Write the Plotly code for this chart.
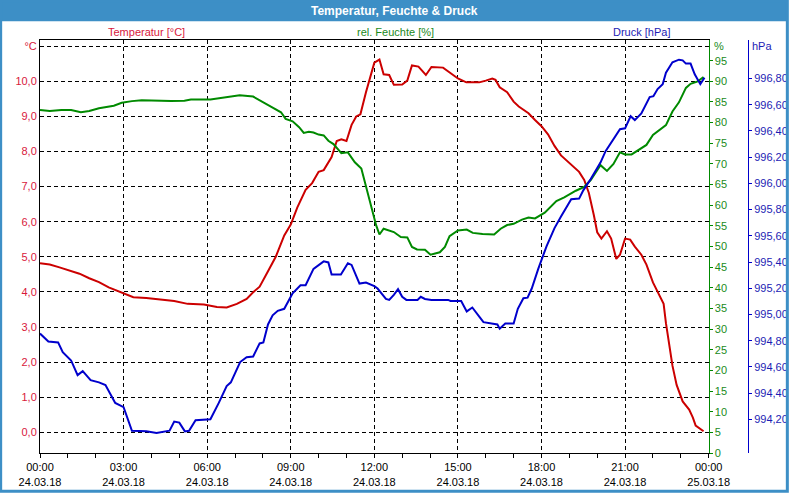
import plotly.graph_objects as go
from datetime import datetime, timedelta

# ---------------- data (minutes after 24.03.18 00:00) ----------------
temp_minutes = [0, 21, 42, 64, 85, 106, 127, 148, 169, 184,
                201, 229, 261, 289, 318, 353, 381, 402, 424, 445,
                459, 473, 491, 508, 526, 540, 554, 572, 586, 600,
                611, 628, 639, 649, 660, 671, 681, 690, 702, 720,
                731, 740, 752, 762, 780, 791, 801, 815, 831, 843,
                868, 886, 900, 918, 946, 960, 974, 981, 990, 1006,
                1020, 1031, 1052, 1066, 1080, 1094, 1108, 1122, 1144, 1161,
                1172, 1182, 1193, 1200, 1209, 1221, 1230, 1241, 1249, 1260,
                1271, 1281, 1295, 1306, 1320, 1334, 1343, 1348, 1355, 1362,
                1371, 1384, 1398, 1406, 1412, 1429]
temp_values = [4.82, 4.78, 4.70, 4.61, 4.52, 4.39, 4.28, 4.13, 4.01, 3.94,
               3.85, 3.83, 3.78, 3.74, 3.66, 3.64, 3.57, 3.56, 3.66, 3.80,
               3.99, 4.15, 4.59, 5.01, 5.61, 5.92, 6.40, 6.91, 7.10, 7.42,
               7.47, 7.84, 8.30, 8.35, 8.30, 8.76, 9.00, 9.06, 9.69, 10.53,
               10.62, 10.20, 10.18, 9.90, 9.91, 10.02, 10.45, 10.42, 10.18, 10.41,
               10.39, 10.23, 10.08, 9.97, 9.97, 10.02, 10.08, 10.04, 9.83, 9.69,
               9.42, 9.28, 9.09, 8.90, 8.72, 8.49, 8.16, 7.89, 7.64, 7.42,
               7.19, 6.82, 6.17, 5.70, 5.52, 5.73, 5.52, 4.94, 5.06, 5.52,
               5.49, 5.29, 5.06, 4.78, 4.27, 3.90, 3.66, 3.11, 2.55, 1.90,
               1.35, 0.88, 0.65, 0.42, 0.19, 0.03]

hum_minutes = [0, 21, 46, 67, 88, 106, 127, 159, 176, 198,
               219, 240, 282, 311, 325, 367, 395, 430, 459, 480,
               501, 519, 529, 544, 558, 568, 579, 589, 600, 611,
               621, 632, 649, 663, 678, 692, 702, 713, 724, 731,
               740, 762, 777, 791, 801, 812, 829, 841, 861, 872,
               882, 900, 919, 932, 953, 978, 992, 1006, 1020, 1038,
               1052, 1066, 1087, 1112, 1129, 1154, 1172, 1186, 1196, 1207,
               1221, 1235, 1249, 1260, 1274, 1288, 1306, 1320, 1348, 1362,
               1376, 1391, 1401, 1415, 1429]
hum_values = [83.05, 82.8, 83.05, 83.05, 82.5, 82.8, 83.45, 84.1, 84.8, 85.2,
              85.4, 85.3, 85.2, 85.3, 85.6, 85.6, 86.1, 86.6, 86.3, 85.05,
              83.6, 82.5, 80.9, 80.3, 78.9, 77.5, 77.8, 77.6, 77.1, 76.9,
              75.6, 74.8, 72.6, 72.8, 70.4, 68.9, 64.5, 59.8, 55.1, 52.9,
              54.3, 53.5, 52.3, 52.2, 49.9, 49.3, 49.2, 48.0, 48.6, 49.9,
              52.5, 53.9, 54.1, 53.3, 53.0, 52.9, 54.3, 55.2, 55.5, 56.5,
              57.0, 56.8, 58.2, 61.0, 61.9, 63.5, 64.4, 66.1, 67.8, 69.7,
              68.3, 70.0, 72.8, 72.3, 72.3, 73.4, 74.6, 77.0, 79.4, 82.7,
              84.9, 88.4, 89.4, 89.9, 91.0]

pres_minutes = [0, 18, 39, 49, 67, 81, 92, 109, 127, 141,
                162, 180, 198, 229, 251, 279, 289, 300, 312, 321,
                335, 367, 385, 402, 411, 431, 445, 459, 473, 481,
                491, 501, 512, 526, 544, 561, 572, 589, 611, 621,
                628, 648, 663, 671, 688, 702, 720, 727, 745, 752,
                762, 771, 780, 789, 813, 820, 829, 843, 879, 884,
                907, 919, 931, 939, 948, 955, 978, 985, 990, 1002,
                1020, 1029, 1041, 1050, 1059, 1073, 1091, 1108, 1122, 1137,
                1144, 1161, 1170, 1186, 1207, 1218, 1232, 1249, 1260, 1272,
                1281, 1295, 1313, 1321, 1330, 1341, 1348, 1362, 1376, 1384,
                1391, 1401, 1410, 1422, 1431]
pres_values = [994.854, 994.794, 994.787, 994.712, 994.649, 994.537, 994.567, 994.499, 994.482, 994.462,
               994.325, 994.293, 994.113, 994.108, 994.095, 994.113, 994.183, 994.175, 994.108, 994.113,
               994.193, 994.200, 994.325, 994.454, 994.482, 994.637, 994.674, 994.679, 994.779, 994.787,
               994.924, 994.993, 995.028, 995.043, 995.161, 995.223, 995.223, 995.348, 995.405, 995.397,
               995.305, 995.305, 995.390, 995.378, 995.236, 995.243, 995.216, 995.198, 995.118, 995.111,
               995.150, 995.193, 995.135, 995.111, 995.111, 995.135, 995.118, 995.111, 995.111, 995.103,
               995.103, 995.023, 995.053, 995.019, 994.974, 994.941, 994.931, 994.924, 994.892, 994.931,
               994.931, 995.043, 995.124, 995.128, 995.198, 995.348, 995.522, 995.659, 995.747, 995.834,
               995.879, 995.884, 995.947, 996.034, 996.159, 996.246, 996.321, 996.413, 996.420, 996.513,
               996.483, 996.533, 996.658, 996.665, 996.720, 996.757, 996.845, 996.924, 996.944, 996.939,
               996.914, 996.914, 996.832, 996.757, 996.807]

x_tick_hours = [0, 3, 6, 9, 12, 15, 18, 21, 24]
x_tick_text = ["00:00<br>24.03.18", "03:00<br>24.03.18", "06:00<br>24.03.18",
               "09:00<br>24.03.18", "12:00<br>24.03.18", "15:00<br>24.03.18",
               "18:00<br>24.03.18", "21:00<br>24.03.18", "00:00<br>25.03.18"]
temp_ticks = [0, 1, 2, 3, 4, 5, 6, 7, 8, 9, 10, 11]
temp_tick_text = ["0,0", "1,0", "2,0", "3,0", "4,0", "5,0", "6,0", "7,0",
                  "8,0", "9,0", "10,0", "°C"]
hum_ticks = list(range(0, 100, 5))
pres_ticks = [994.2, 994.4, 994.6, 994.8, 995.0, 995.2, 995.4, 995.6,
              995.8, 996.0, 996.2, 996.4, 996.6, 996.8]
pres_tick_text = ["994,20", "994,40", "994,60", "994,80", "995,00", "995,20",
                  "995,40", "995,60", "995,80", "996,00", "996,20", "996,40",
                  "996,60", "996,80"]

# ---------------- helpers ----------------
base = datetime(2018, 3, 24)
def tm(m):
    return base + timedelta(minutes=m)

FONT = "Liberation Sans, Arial, sans-serif"
RED_LINE = "#cc0000"
GREEN_LINE = "#008a00"
BLUE_LINE = "#0000cc"
RED_TXT = "#d8183c"
GREEN_TXT = "#1a8a1a"
BLUE_TXT = "#1c1cb4"
FRAME = "#3d8fc6"

W, H = 800, 500
ML, MR, MT, MB = 40, 40, 40, 39
PW = W - ML - MR
PH = H - MT - MB
def px(xp):
    return (xp - ML) / PW
def py(yp):
    return (H - MB - yp) / PH

fig = go.Figure()
fig.add_trace(go.Scatter(x=[tm(m) for m in temp_minutes], y=temp_values, yaxis="y",
                         mode="lines", line=dict(color=RED_LINE, width=2), hoverinfo="skip"))
fig.add_trace(go.Scatter(x=[tm(m) for m in hum_minutes], y=hum_values, yaxis="y2",
                         mode="lines", line=dict(color=GREEN_LINE, width=2), hoverinfo="skip"))
fig.add_trace(go.Scatter(x=[tm(m) for m in pres_minutes], y=pres_values, yaxis="y3",
                         mode="lines", line=dict(color=BLUE_LINE, width=2), hoverinfo="skip"))

grid = dict(showgrid=True, gridcolor="black", gridwidth=1, griddash="4px,3px")

fig.update_layout(
    width=W, height=H,
    margin=dict(l=ML, r=MR, t=MT, b=MB, pad=0),
    paper_bgcolor="white", plot_bgcolor="white",
    showlegend=False,
    font=dict(family=FONT, size=11, color="black"),
    xaxis=dict(
        type="date", domain=[0, 680 / PW],
        range=[tm(0), tm(24 * 60)],
        tickvals=[tm(h * 60) for h in x_tick_hours], ticktext=x_tick_text,
        ticks="outside", ticklen=4, tickcolor="black", tickwidth=1,
        minor=dict(dtick=3600000, ticks="outside", ticklen=4, tickcolor="black",
                   showgrid=False),
        showline=True, linecolor="black", linewidth=1, mirror=True,
        zeroline=False, tickfont=dict(family=FONT, size=11, color="black"),
        **grid),
    yaxis=dict(
        range=[-5 / 8.5, 95 / 8.5],
        tickvals=temp_ticks, ticktext=temp_tick_text, ticks="",
        showline=True, linecolor="black", linewidth=1,
        zeroline=False, tickfont=dict(family=FONT, size=11, color=RED_TXT),
        **grid),
    yaxis2=dict(
        overlaying="y", side="right", anchor="x", range=[0, 100],
        tickvals=hum_ticks, ticks="outside", ticklen=3, tickcolor=GREEN_LINE,
        showline=True, linecolor=GREEN_LINE, linewidth=1, showgrid=False,
        zeroline=False, tickfont=dict(family=FONT, size=11, color=GREEN_TXT)),
    yaxis3=dict(
        overlaying="y", side="right", anchor="free", position=1.0,
        range=[993.943, 997.094],
        tickvals=pres_ticks, ticktext=pres_tick_text, ticks="outside", ticklen=3,
        tickcolor=BLUE_LINE, showline=True, linecolor=BLUE_LINE, linewidth=1,
        showgrid=False, zeroline=False,
        tickfont=dict(family=FONT, size=11, color=BLUE_TXT)),
)

shapes = [
    dict(type="rect", xref="paper", yref="paper", x0=px(0), x1=px(800),
         y0=py(21), y1=py(0), fillcolor=FRAME, line=dict(width=0), layer="above"),
    dict(type="rect", xref="paper", yref="paper", x0=px(0), x1=px(800),
         y0=py(500), y1=py(0), fillcolor="rgba(0,0,0,0)",
         line=dict(color=FRAME, width=3), layer="above"),
]
fig.update_layout(shapes=shapes)

ann = [
    dict(text="<b>Temperatur, Feuchte &amp; Druck</b>", x=px(400), y=py(10.5),
         font=dict(family=FONT, size=12, color="white")),
    dict(text="Temperatur [°C]", x=px(148), y=py(32),
         font=dict(family=FONT, size=11, color=RED_TXT)),
    dict(text="rel. Feuchte [%]", x=px(402), y=py(32),
         font=dict(family=FONT, size=11, color=GREEN_TXT)),
    dict(text="Druck [hPa]", x=px(652), y=py(32),
         font=dict(family=FONT, size=11, color=BLUE_TXT)),
    dict(text="%", x=px(724), y=py(46.5), xanchor="left",
         font=dict(family=FONT, size=11, color=GREEN_TXT)),
    dict(text="hPa", x=px(763), y=py(46.5), xanchor="left",
         font=dict(family=FONT, size=11, color=BLUE_TXT)),
]
for a in ann:
    a.setdefault("xanchor", "center")
    fig.add_annotation(xref="paper", yref="paper", yanchor="middle",
                       showarrow=False, borderpad=0, **a)

fig.write_html("out.html")
